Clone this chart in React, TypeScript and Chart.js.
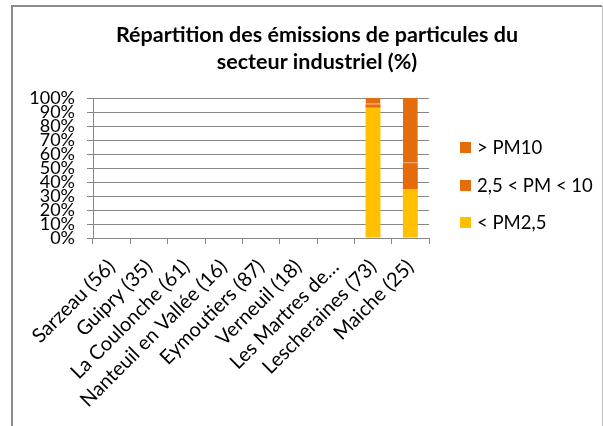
import React, { useEffect, useRef } from "react";
import { Chart, registerables } from "chart.js";

Chart.register(...registerables);

const categories = [
  "Sarzeau (56)",
  "Guipry (35)",
  "La Coulonche (61)",
  "Nanteuil en Vallée (16)",
  "Eymoutiers (87)",
  "Verneuil (18)",
  "Les Martres de…",
  "Lescheraines (73)",
  "Maiche (25)",
];
const belowPM25 = [null, null, null, null, null, null, null, 93, 35];
const between25and10 = [null, null, null, null, null, null, null, 2.5, 18.5];
const abovePM10 = [null, null, null, null, null, null, null, 4.5, 46.5];
const seriesLabels = ["< PM2,5", "2,5 < PM < 10", "> PM10"];
const seriesColors = ["#FFC000", "#E46C0A", "#E46C0A"];
const yTickValues = [0, 10, 20, 30, 40, 50, 60, 70, 80, 90, 100];
const titleLines = ["Répartition des émissions de particules du", "secteur industriel (%)"];

const FONT = "Lato, 'Open Sans', sans-serif";

const decorPlugin = {
  id: "decor",
  beforeDraw(chart: any) {
    const ctx = chart.ctx;
    ctx.save();
    ctx.fillStyle = "#ffffff";
    ctx.fillRect(0, 0, chart.width, chart.height);
    ctx.strokeStyle = "#8a8a8a";
    ctx.lineWidth = 2;
    ctx.beginPath();
    ctx.moveTo(12, 430);
    ctx.lineTo(12, 6);
    ctx.lineTo(602, 6);
    ctx.stroke();
    ctx.strokeStyle = "#c4c4c4";
    ctx.lineWidth = 1;
    ctx.beginPath();
    ctx.moveTo(602.5, 6);
    ctx.lineTo(602.5, 430);
    ctx.stroke();
    ctx.restore();
  },
  afterDraw(chart: any) {
    const ctx = chart.ctx;
    ctx.save();
    ctx.fillStyle = "#000000";
    ctx.font = `bold 21.5px ${FONT}`;
    ctx.textAlign = "center";
    ctx.textBaseline = "middle";
    ctx.fillText(titleLines[0], 317, 35);
    ctx.fillText(titleLines[1], 317, 62);
    const ys = [223, 186, 148];
    ctx.font = `18.5px ${FONT}`;
    ctx.textAlign = "left";
    chart.data.datasets.forEach((ds: any, i: number) => {
      const y = ys[i];
      ctx.fillStyle = ds.backgroundColor;
      ctx.fillRect(460, y - 6, 11, 11);
      ctx.fillStyle = "#000000";
      ctx.fillText(ds.label, 477, y);
    });
    ctx.restore();
  },
};

export default function App() {
  const ref = useRef<HTMLCanvasElement | null>(null);
  useEffect(() => {
    if (!ref.current) return;
    const mk = (i: number, data: any[], extra: any = {}) => ({
      label: seriesLabels[i],
      data,
      backgroundColor: seriesColors[i],
      borderWidth: 0,
      barPercentage: 0.4,
      categoryPercentage: 1,
      ...extra,
    });
    const chart = new Chart(ref.current, {
      type: "bar",
      data: {
        labels: categories,
        datasets: [
          mk(0, belowPM25),
          mk(1, between25and10),
          mk(2, abovePM10, {
            borderWidth: { top: 0, left: 0, right: 0, bottom: 1 },
            borderColor: "#F0A46A",
            borderSkipped: false,
          }),
        ],
      },
      options: {
        animation: false,
        responsive: false,
        devicePixelRatio: 1,
        layout: { padding: { top: 98, left: 0, right: 174, bottom: 0 } },
        plugins: {
          legend: { display: false },
          title: { display: false },
          tooltip: { enabled: false },
        },
        scales: {
          x: {
            stacked: true,
            offset: true,
            grid: {
              offset: true,
              drawOnChartArea: false,
              drawTicks: true,
              tickLength: 6,
              color: "#868686",
            },
            border: { display: true, color: "#868686", width: 1 },
            ticks: {
              autoSkip: false,
              maxRotation: 45,
              minRotation: 45,
              padding: 11,
              color: "#000000",
              font: { family: FONT, size: 20 },
            },
            afterFit(scale: any) {
              scale.height = 426 - 238;
            },
          },
          y: {
            stacked: true,
            min: 0,
            max: 100,
            afterBuildTicks(scale: any) {
              scale.ticks = yTickValues.map((v) => ({ value: v }));
            },
            grid: {
              color: "#868686",
              drawTicks: true,
              tickLength: 6,
            },
            border: { display: true, color: "#868686", width: 1 },
            ticks: {
              autoSkip: false,
              stepSize: 10,
              padding: 12,
              color: "#000000",
              font: { family: FONT, size: 18, lineHeight: 1 },
              callback: (v: any) => `${v}%`,
            },
            afterFit(scale: any) {
              scale.width = 93;
            },
          },
        },
      },
      plugins: [decorPlugin],
    } as any);
    return () => chart.destroy();
  }, []);
  return (
    <div style={{ position: "absolute", left: 0, top: 0, width: 603, height: 426, background: "#fff" }}>
      <canvas ref={ref} width={603} height={426} style={{ width: 603, height: 426, display: "block" }} />
    </div>
  );
}
